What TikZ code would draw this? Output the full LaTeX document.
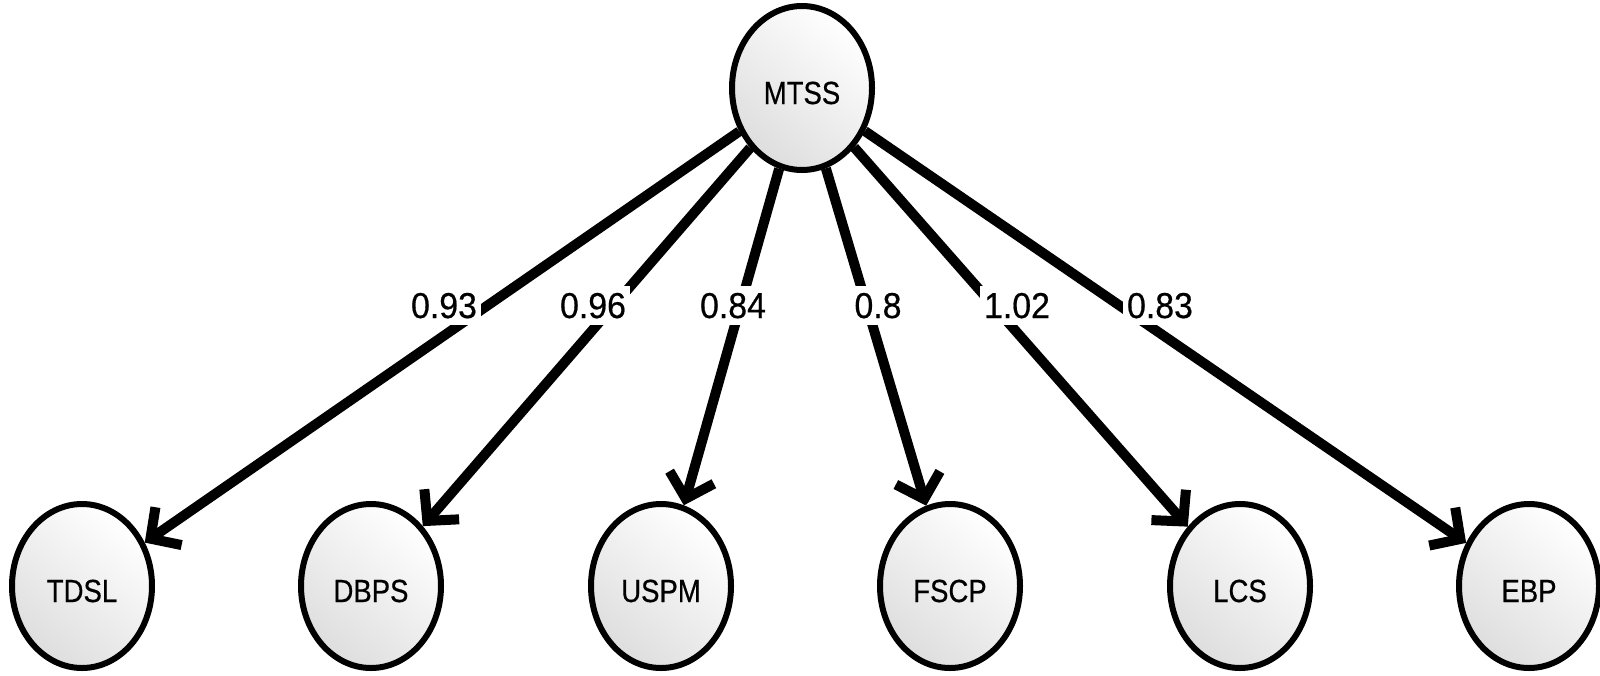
\documentclass[tikz,border=0pt]{standalone}
\usepackage{fontspec}
\setmainfont{Liberation Sans}
\newfontfamily\nodefont[FakeStretch=0.86,FakeBold=0.5]{Liberation Sans}
\newfontfamily\labfont[FakeStretch=0.94,FakeBold=0.5]{Liberation Sans}
\usetikzlibrary{arrows.meta,shapes.geometric}
\tikzset{
  latent/.style={ellipse, draw=black, line width=6pt, minimum width=140pt, minimum height=164pt,
    inner sep=0pt, text height=32pt, text depth=0pt,
    top color=white, bottom color=black!13, shading angle=-40,
    font=\nodefont\fontsize{32}{32}\selectfont},
  edge/.style={line width=10pt, -{Straight Barb[length=22pt,width=46pt]}},
  lab/.style={fill=white, inner xsep=4pt, inner ysep=6.5pt, text height=26pt, text depth=0pt,
    anchor=base, font=\labfont\fontsize{36}{36}\selectfont}
}
\begin{document}
\begin{tikzpicture}[x=1pt,y=-1pt]
\useasboundingbox (0,0) rectangle (1600,675);
\node[latent] (M) at (802,88) {MTSS};
\node[latent] (T) at (82,586) {TDSL};
\node[latent] (D) at (371,586) {DBPS};
\node[latent] (U) at (661,586) {USPM};
\node[latent] (F) at (950,586) {FSCP};
\node[latent] (L) at (1240,586) {LCS};
\node[latent] (E) at (1529,586) {EBP};
\draw[edge] (M) -- (T);
\draw[edge] (M) -- (D);
\draw[edge] (M) -- (U);
\draw[edge] (M) -- (F);
\draw[edge] (M) -- (L);
\draw[edge] (M) -- (E);
\node[lab] (l1) at (444,318) {0.93};
\node[lab] (l2) at (593,318) {0.96};
\node[lab] (l3) at (733,318) {0.84};
\node[lab] (l4) at (878,318) {0.8};
\node[lab] (l5) at (1017,318) {1.02};
\node[lab] (l6) at (1160,318) {0.83};
\end{tikzpicture}
\end{document}
